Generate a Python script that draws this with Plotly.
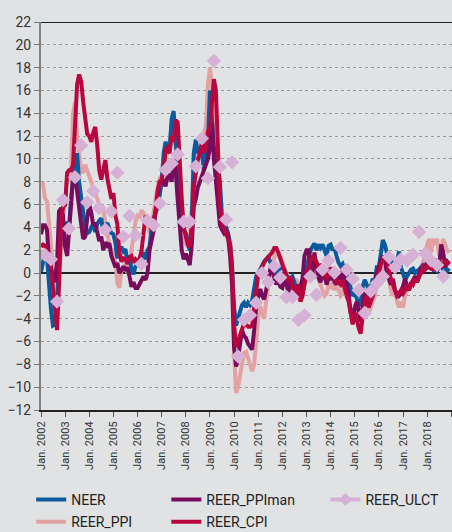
import pandas as pd
import plotly.graph_objects as go

# ---------------- data ----------------
months = [d.strftime("%Y-%m-%d") for d in pd.date_range("2002-01-01", periods=204, freq="MS")]

neer = [
    0.1, 1.2, 1.7, 1.4, -1.0, -3.2, -4.6, -4.5, -2.4, 1.5, 3.6, 3.8,      # 2002
    3.8, 4.5, 4.0, 6.5, 8.3, 9.0, 10.5, 8.0, 6.5, 4.8, 4.0, 3.5,          # 2003
    3.6, 4.0, 4.3, 3.6, 4.3, 4.6, 4.8, 3.5, 4.0, 4.4, 3.9, 3.5,           # 2004
    3.4, 2.6, 1.3, 2.0, 2.3, 1.9, 2.1, 1.0, 1.5, 0.3, -0.1, 0.6,          # 2005
    0.7, 0.9, 1.5, 1.8, 1.2, 2.0, 2.3, 3.9, 4.7, 5.3, 5.8, 6.8,           # 2006
    8.0, 10.5, 11.5, 11.0, 10.8, 13.5, 14.2, 11.5, 9.0, 6.5, 4.8, 3.8,    # 2007
    3.5, 2.6, 2.0, 4.5, 10.5, 11.7, 10.5, 10.8, 10.5, 9.0, 10.5, 11.5,    # 2008
    16.0, 13.5, 11.0, 10.0, 9.5, 8.0, 5.0, 4.5, 4.0, 3.5, 2.5, 0.5,       # 2009
    -3.0, -4.6, -4.0, -3.5, -2.8, -2.6, -3.0, -2.6, -2.8, -2.4, -1.2, -0.3,  # 2010
    0.0, 0.4, 0.6, 1.0, 1.2, 1.4, 1.0, 0.6, 0.8, -0.4, 0.2, 0.4,          # 2011
    0.6, 0.3, -0.2, -0.6, -0.5, -0.3, -0.8, -1.5, -1.2, -2.3, -1.8, -0.5, # 2012
    0.3, 1.2, 2.0, 2.3, 2.6, 2.0, 2.5, 2.2, 2.5, 2.0, 1.5, 2.4,           # 2013
    2.5, 2.0, 2.2, 1.5, 0.9, 0.6, 0.8, 0.3, 0.0, -0.6, -1.2, -2.0,        # 2014
    -1.8, -2.2, -2.9, -2.6, -1.2, -0.6, -1.0, -1.5, -1.2, -0.5, -0.8, 0.5,  # 2015
    0.5, 2.0, 2.9, 2.5, 1.8, 1.0, 1.2, 0.6, 0.3, 1.0, 1.9, 0.5,           # 2016
    0.0, -0.6, -0.3, 0.0, 0.3, 0.4, 0.0, 0.2, 0.3, 0.5, 0.7, 0.6,         # 2017
    0.5, 0.9, 0.6, 0.3, 0.4, 0.2, 0.5, 0.7, 0.3, 0.5, 0.2, 0.4,           # 2018
]

reer_ppi = [
    7.7, 7.8, 6.6, 6.3, 4.5, 2.5, 0.0, -1.5, -2.5, -0.5, 2.0, 5.0,
    6.0, 8.5, 8.0, 9.0, 14.0, 15.0, 12.0, 10.5, 9.0, 8.8, 9.5, 9.0,
    8.5, 8.0, 7.5, 7.0, 6.6, 6.0, 5.8, 5.5, 4.5, 3.5, 2.5, 2.0,
    2.0, 1.0, -0.8, -1.3, 0.2, 0.5, 0.8, 0.0, 0.6, 2.0, 3.5, 4.5,
    5.0, 4.8, 5.5, 5.3, 5.0, 4.2, 3.5, 4.0, 5.6, 6.5, 7.5, 8.3,
    8.5, 9.0, 10.0, 10.5, 11.5, 12.8, 12.0, 11.0, 9.5, 6.5, 4.5, 3.0,
    2.5, 2.3, 3.0, 6.0, 9.3, 9.5, 10.5, 11.0, 11.5, 12.0, 13.0, 16.5,
    18.0, 16.5, 14.0, 11.0, 9.0, 6.0, 4.8, 4.2, 3.8, 3.5, 2.8, 1.5,
    -7.0, -10.5, -10.0, -9.0, -7.8, -7.0, -6.9, -7.5, -8.0, -8.6, -8.0, -6.0,
    -4.0, -2.9, -3.5, -4.0, -2.5, -1.0, 0.0, 0.8, 1.2, 1.8, 1.8, 1.5,
    1.0, 0.5, 0.0, -0.5, -0.8, -1.3, -1.0, -0.5, -1.5, -2.5, -2.0, -1.0,
    0.5, 1.0, 0.5, 1.5, 0.6, 0.0, -0.5, -1.0, -1.5, -2.0, -1.8, -1.0,
    -1.2, -0.8, -1.5, -1.0, -1.5, -2.0, -1.8, -0.8, -1.5, -2.5, -3.5, -4.0,
    -3.5, -3.0, -4.0, -4.2, -3.0, -2.5, -3.0, -3.5, -3.0, -2.5, -2.0, -1.0,
    -0.5, 0.0, 0.5, 0.8, 0.5, -0.5, -1.5, -2.0, -1.5, -2.5, -3.0, -2.5,
    -3.0, -2.0, -1.5, -1.0, -1.2, -0.5, -0.8, 0.0, -0.5, 0.5, 1.0, 1.5,
    2.5, 3.0, 1.8, 3.0, 2.5, 3.0, 1.5, 2.0, 3.0, 2.5, 2.0, 1.8,
]

reer_ppiman = [
    3.4, 4.2, 4.2, 3.8, 1.3, 0.4, -0.3, -0.8, 1.0, 5.4, 5.7, 5.0,
    2.3, 1.5, 4.0, 6.5, 8.3, 8.6, 7.0, 5.5, 4.3, 3.0, 3.2, 4.8,
    6.0, 5.3, 4.2, 4.4, 3.4, 2.8, 3.2, 2.0, 2.7, 2.4, 2.6, 1.5,
    1.0, 0.5, 0.9, 0.0, 0.2, 0.6, 0.2, 0.5, -0.3, -1.2, -0.8, -1.3,
    -1.3, -1.0, -0.6, -0.3, -0.6, 0.0, 2.0, 3.0, 3.7, 5.5, 7.0, 7.8,
    7.8, 8.0, 7.6, 8.5, 8.7, 8.0, 9.9, 9.0, 6.4, 4.4, 2.0, 1.2,
    1.7, 1.2, 0.7, 2.5, 5.8, 6.5, 7.5, 8.0, 8.5, 9.0, 9.5, 10.0,
    11.0, 13.2, 10.0, 8.0, 6.0, 4.2, 3.8, 3.5, 3.8, 3.2, 1.5, -1.0,
    -6.5, -8.2, -7.5, -6.0, -5.0, -5.5, -5.7, -6.2, -6.4, -6.7, -5.0, -3.0,
    -2.0, -1.4, -2.0, -2.3, -1.5, -0.6, 0.3, 0.2, -0.5, -1.0, -0.6, -1.2,
    -1.3, -0.5, -0.8, -1.8, -0.6, -1.0, -1.5, -2.0, -1.8, -1.2, -0.5, 1.5,
    2.0, 2.0, 0.5, 0.0, 1.8, 0.5, -0.4, -0.8, 0.0, -0.2, -1.0, -0.5,
    -0.5, 0.0, -0.8, -1.0, 0.0, -0.6, 0.5, -0.5, -1.0, -1.8, -3.5, -4.0,
    -3.0, -2.5, -3.5, -4.2, -3.0, -1.8, -1.5, -2.5, -2.0, -1.5, -1.0, 0.0,
    0.5, 1.0, 1.5, 1.2, 0.0, -0.5, -1.0, -0.5, -1.5, -1.8, -2.0, -1.8,
    -1.0, -0.5, -1.2, -1.5, -1.0, -0.6, -0.3, -0.8, 0.0, 0.5, 0.0, 0.5,
    0.8, 1.5, 0.8, 0.5, 1.2, 1.0, 0.5, 2.5, 1.8, 0.5, 1.0, 0.8,
]

reer_cpi = [
    2.3, 2.5, 2.4, 1.9, 1.6, 0.5, -1.5, -3.8, -5.0, -1.0, 4.5, 5.8,
    6.0, 8.8, 9.0, 9.0, 9.5, 13.0, 16.5, 17.4, 16.8, 15.0, 13.8, 12.2,
    12.0, 11.5, 12.3, 12.8, 11.2, 9.0, 8.2, 9.0, 9.9, 8.3, 7.5, 6.5,
    7.0, 5.0, 4.3, 1.8, 1.0, 1.3, 1.2, 0.8, 1.4, 1.5, 0.9, 1.2,
    1.0, 1.3, 1.9, 3.5, 5.0, 4.8, 4.4, 3.8, 4.5, 5.5, 7.2, 8.0,
    8.2, 9.0, 10.8, 11.0, 10.5, 12.0, 11.5, 13.4, 13.2, 9.5, 6.5, 4.0,
    3.2, 2.5, 2.3, 3.5, 7.5, 9.0, 9.9, 10.5, 11.4, 10.5, 11.0, 12.4,
    12.5, 15.0, 17.0, 16.0, 11.0, 6.0, 4.5, 4.0, 3.5, 3.0, 2.5, 0.5,
    -4.5, -6.5, -6.0, -5.6, -5.0, -4.4, -4.5, -4.7, -4.7, -4.6, -3.0, -1.4,
    -0.2, 0.2, 0.6, 0.9, 1.2, 1.4, 1.6, 1.8, 2.2, 2.2, 1.8, 1.2,
    0.8, 0.0, -0.3, -0.6, -0.3, -1.0, -1.8, -1.5, -1.0, -2.5, -2.0, -1.0,
    -0.2, 0.5, 1.0, 1.5, 1.2, 1.0, 0.5, 0.8, 0.3, 0.0, -0.5, 0.0,
    0.5, 0.0, -0.5, -0.8, -0.8, -1.0, -0.6, -1.5, -2.0, -2.5, -3.5, -4.5,
    -3.5, -4.0, -4.8, -5.3, -3.8, -2.5, -2.0, -3.0, -2.5, -2.0, -1.5, -0.5,
    0.0, 0.8, 1.2, 1.5, 1.0, 0.0, -0.5, -1.0, -1.6, -2.0, -1.8, -1.5,
    -1.8, -1.5, -1.0, -1.5, -0.8, -1.0, -0.5, -0.8, -0.3, 0.0, 0.5, 0.3,
    0.5, 0.8, 0.3, 0.5, 0.2, 0.8, 1.0, 0.5, 0.8, 1.0, 0.8, 1.0,
]

quarters = [d.strftime("%Y-%m-%d") for d in pd.date_range("2002-03-01", periods=67, freq="3MS")]
reer_ulct = [
    1.6, 1.2, -2.5, 6.4, 3.9, 8.4, 11.2, 6.2, 7.2, 5.7, 3.8, 5.4,
    8.8, 3.2, 5.0, 3.3, 0.8, 4.6, 4.2, 6.1, 9.05, 9.6, 10.4, 4.5,
    4.5, 9.35, 11.8, 8.3, 18.6, 9.3, 4.7, 9.7, -7.3, -4.1, -3.7, -2.6,
    0.0, -0.8, 0.6, -0.4, -2.1, -2.1, -4.1, -3.7, -0.3, -1.9, 0.3, 1.1,
    0.05, 2.2, 0.3, -0.5, -1.5, -3.5, -1.6, -0.9, -0.3, 1.4, 0.5, 1.2,
    1.1, 1.6, 3.6, 1.7, 1.1, 0.7, -0.3,
]

tick_years = list(range(2002, 2020))
tick_dates = [f"{y}-01-01" for y in tick_years]
tick_labels = [f"Jan. {y}" for y in tick_years]
y_ticks = list(range(-12, 23, 2))

# ---------------- styling ----------------
C_NEER = "#0a5a9e"
C_PPI = "#e2a2a3"
C_PPIMAN = "#780c5c"
C_CPI = "#b8063f"
C_ULCT = "#d7b0d6"
BG = "#e1e2e4"
FONT = "Roboto"

fig = go.Figure()

fig.add_trace(go.Scatter(x=months, y=reer_ppi, name="REER_PPI", mode="lines",
                         line=dict(color=C_PPI, width=4), legend="legend",
                         legendrank=2, legendgroup="b"))
fig.add_trace(go.Scatter(x=months, y=neer, name="NEER", mode="lines",
                         line=dict(color=C_NEER, width=4), legend="legend",
                         legendrank=1, legendgroup="a"))
fig.add_trace(go.Scatter(x=months, y=reer_ppiman, name="REER_PPIman", mode="lines",
                         line=dict(color=C_PPIMAN, width=4), legend="legend2",
                         legendrank=1, legendgroup="c"))
fig.add_trace(go.Scatter(x=months, y=reer_cpi, name="REER_CPI", mode="lines",
                         line=dict(color=C_CPI, width=4), legend="legend2",
                         legendrank=2, legendgroup="d"))
fig.add_trace(go.Scatter(x=quarters, y=reer_ulct, name="REER_ULCT", mode="markers",
                         marker=dict(symbol="diamond", size=11, color=C_ULCT),
                         showlegend=False))
# legend entry for ULCT (line + diamond, as in the original legend)
fig.add_trace(go.Scatter(x=[quarters[0]], y=[None], name="REER_ULCT", mode="lines+markers",
                         line=dict(color=C_ULCT, width=4),
                         marker=dict(symbol="diamond", size=10, color=C_ULCT),
                         legend="legend3"))

# top border of plot
fig.add_shape(type="line", xref="paper", yref="y", x0=0, x1=1, y0=22, y1=22,
              line=dict(color="#222222", width=2), layer="above")

leg_common = dict(xref="container", yref="container", xanchor="left", yanchor="top",
                  bgcolor="rgba(0,0,0,0)", font=dict(family=FONT, size=14, color="#222"),
                  itemwidth=30, tracegroupgap=1, orientation="v")
leg_top = (532 - 484) / 532

fig.update_layout(
    width=452, height=532,
    margin=dict(l=41, r=0, t=22, b=122, autoexpand=False),
    paper_bgcolor=BG, plot_bgcolor=BG,
    font=dict(family=FONT, color="#333"),
    showlegend=True,
    legend=dict(x=0.069, y=leg_top, **leg_common),
    legend2=dict(x=0.368, y=leg_top, **leg_common),
    legend3=dict(x=0.72, y=leg_top, **leg_common),
    xaxis=dict(
        type="date",
        range=["2002-01-01", "2019-01-12"],
        tickvals=tick_dates, ticktext=tick_labels, tickangle=-90,
        tickfont=dict(family=FONT, size=11, color="#333"),
        ticks="outside", ticklen=5, tickcolor="#555", tickwidth=1,
        showgrid=False, showline=True, linecolor="#222", linewidth=2,
        zeroline=False, automargin=False,
    ),
    yaxis=dict(
        range=[-12, 22], tickvals=y_ticks,
        tickfont=dict(family=FONT, size=14, color="#333"),
        ticks="outside", ticklen=5, tickcolor="#777", tickwidth=1,
        showgrid=True, gridcolor="#9a9a9a", gridwidth=1, griddash="dot",
        showline=True, linecolor="#808080", linewidth=2,
        zeroline=True, zerolinecolor="#222", zerolinewidth=1.5, automargin=False,
    ),
)

fig.write_html(
    "out.html",
    config={"displayModeBar": False},
    post_script="document.body.style.margin='0';document.body.style.background='#e1e2e4';",
)
